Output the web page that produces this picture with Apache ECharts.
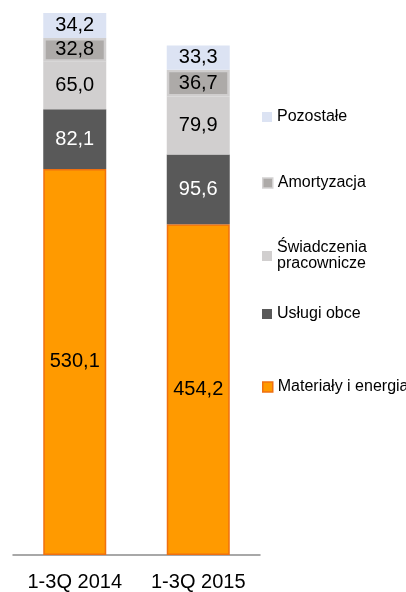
<!DOCTYPE html>
<html><head><meta charset="utf-8">
<script src="https://cdn.jsdelivr.net/npm/echarts@6/dist/echarts.min.js"></script>
<style>html,body{margin:0;padding:0;background:#fff}#c{width:406px;height:592px}</style>
</head><body><div id="c"></div>
<script>
var categories = ['1-3Q 2014', '1-3Q 2015'];
var materialy = [530.1, 454.2];
var uslugi = [82.1, 95.6];
var swiadczenia = [65.0, 79.9];
var amortyzacja = [32.8, 36.7];
var pozostale = [34.2, 33.3];
var seriesNames = ['Materiały i energia', 'Usługi obce', 'Świadczenia pracownicze', 'Amortyzacja', 'Pozostałe'];

var chart = echarts.init(document.getElementById('c'));
var fmt = function (p) { return p.value.toFixed(1).replace('.', ','); };
var FONT = 'Liberation Sans';
function mk(name, data, color, border, bw, labelColor) {
  return {
    name: name, type: 'bar', stack: 'a', data: data, barWidth: 63,
    itemStyle: { color: color, borderColor: border, borderWidth: bw },
    label: { show: true, position: 'inside', formatter: fmt, color: labelColor, fontSize: 20, fontFamily: FONT },
    emphasis: { disabled: true }
  };
}
var total0 = materialy[0] + uslugi[0] + swiadczenia[0] + amortyzacja[0] + pozostale[0];
function leg(name, top, icoBorder) {
  return {
    top: top, left: 262, itemWidth: 10, itemHeight: 10, itemGap: 0, icon: 'rect', padding: 0,
    data: [{ name: name, itemStyle: icoBorder }],
    textStyle: { fontSize: 16, fontFamily: FONT, color: '#000', lineHeight: 16 },
    formatter: function (n) { return n === 'Świadczenia pracownicze' ? 'Świadczenia\npracownicze' : n; },
    selectedMode: false
  };
}
chart.setOption({
  animation: false,
  grid: { left: 13, right: 146, top: 13, bottom: 34 },
  xAxis: {
    type: 'category', data: categories,
    axisLine: { lineStyle: { color: '#8c8c8c', width: 1.5 } },
    axisTick: { show: false },
    axisLabel: { fontSize: 20, fontFamily: FONT, color: '#000', margin: 17 }
  },
  yAxis: { type: 'value', min: 0, max: total0, show: false, splitLine: { show: false } },
  legend: [
    leg('Pozostałe', 109, { borderWidth: 0 }),
    leg('Amortyzacja', 175, { borderColor: '#d4d2d2', borderWidth: 1.5 }),
    leg('Świadczenia pracownicze', 240, { borderWidth: 0 }),
    leg('Usługi obce', 306, { borderWidth: 0 }),
    leg('Materiały i energia', 379, { borderColor: '#f07010', borderWidth: 1.5 })
  ],
  series: [
    mk(seriesNames[0], materialy, '#ff9a00', '#f0700f', 1.5, '#000'),
    mk(seriesNames[1], uslugi, '#595959', '#595959', 0, '#fff'),
    mk(seriesNames[2], swiadczenia, '#d1cfcf', '#d1cfcf', 0, '#000'),
    mk(seriesNames[3], amortyzacja, '#adaaa8', '#d0cece', 2.5, '#000'),
    mk(seriesNames[4], pozostale, '#dce3f3', '#dce3f3', 0, '#000')
  ]
});
</script></body></html>
